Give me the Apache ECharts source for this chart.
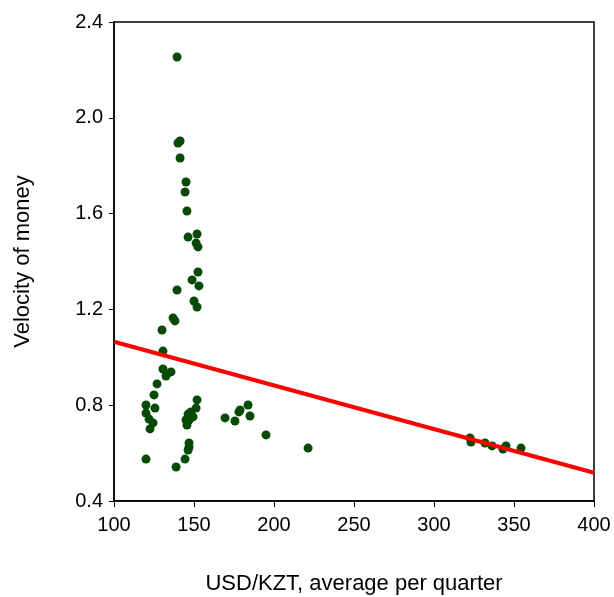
<!DOCTYPE html>
<html>
<head>
<meta charset="utf-8">
<script src="https://cdn.jsdelivr.net/npm/echarts@6/dist/echarts.min.js"></script>
<style>
html,body{margin:0;padding:0;background:#fff;}
#chart{width:614px;height:597px;}
</style>
</head>
<body>
<div id="chart"></div>
<script>
// USD/KZT average per quarter (x) vs velocity of money (y)
var usdKzt = [
  139.4, 140.0, 141.3, 141.3, 145.0, 144.4, 145.6, 146.3, 151.9, 151.3,
  152.5, 152.5, 148.8, 153.1, 139.4, 150.0, 151.9, 136.9, 138.1, 130.0,
  130.6, 130.6, 135.6, 132.5, 126.9, 125.0, 120.0, 125.6, 120.0, 121.9,
  124.4, 122.5, 120.0, 151.9, 151.3, 146.3, 149.4, 146.9, 145.6, 148.1,
  145.0, 146.9, 146.9, 146.3, 144.4, 138.8, 169.4, 175.6, 178.1, 178.8,
  183.8, 185.0, 195.0, 221.3, 322.5, 323.1, 331.9, 336.3, 343.1, 345.0,
  354.4
];
var velocity = [
  2.254, 1.895, 1.903, 1.832, 1.732, 1.690, 1.611, 1.502, 1.515, 1.477,
  1.461, 1.356, 1.323, 1.298, 1.281, 1.235, 1.210, 1.164, 1.152, 1.114,
  1.026, 0.951, 0.939, 0.922, 0.889, 0.843, 0.801, 0.788, 0.767, 0.742,
  0.726, 0.701, 0.575, 0.822, 0.788, 0.763, 0.751, 0.738, 0.717, 0.772,
  0.738, 0.642, 0.625, 0.613, 0.575, 0.542, 0.747, 0.734, 0.772, 0.780,
  0.801, 0.755, 0.676, 0.621, 0.663, 0.646, 0.642, 0.630, 0.617, 0.630,
  0.621
];
// fitted regression line end points
var fitX = [100, 400];
var fitY = [1.065, 0.518];

var xTicks = {min: 100, max: 400, interval: 50};
var yTicks = {min: 0.4, max: 2.4, interval: 0.4};

var scatterData = usdKzt.map(function (x, i) { return [x, velocity[i]]; });
var fitData = fitX.map(function (x, i) { return [x, fitY[i]]; });

var font = 'Liberation Sans, Arial, sans-serif';
var chart = echarts.init(document.getElementById('chart'), null, {renderer: 'canvas'});
chart.setOption({
  backgroundColor: '#ffffff',
  animation: false,
  grid: {
    left: 114, right: 20, top: 22, bottom: 96,
    containLabel: false, outerBoundsMode: 'none',
    show: true, borderColor: '#000', borderWidth: 1.5, backgroundColor: 'transparent'
  },
  xAxis: {
    type: 'value',
    min: xTicks.min, max: xTicks.max, interval: xTicks.interval,
    name: 'USD/KZT, average per quarter',
    nameLocation: 'middle', nameGap: 72,
    nameTextStyle: {fontFamily: font, fontSize: 22, color: '#000'},
    axisLine: {lineStyle: {color: '#000', width: 1.5}},
    axisTick: {show: true, length: 6, lineStyle: {color: '#000', width: 1}},
    axisLabel: {fontFamily: font, fontSize: 20, color: '#000', margin: 14},
    splitLine: {show: false}
  },
  yAxis: {
    type: 'value',
    min: yTicks.min, max: yTicks.max, interval: yTicks.interval,
    name: 'Velocity of money',
    nameLocation: 'middle', nameGap: 80,
    nameTextStyle: {fontFamily: font, fontSize: 22, color: '#000'},
    axisLine: {lineStyle: {color: '#000', width: 1.5}},
    axisTick: {show: true, length: 5, lineStyle: {color: '#000', width: 1}},
    axisLabel: {fontFamily: font, fontSize: 20, color: '#000', margin: 11,
      formatter: function (v) { return v.toFixed(1); }},
    splitLine: {show: false}
  },
  series: [
    {
      type: 'scatter',
      data: scatterData,
      symbol: 'circle',
      symbolSize: 9,
      itemStyle: {color: '#064a06', opacity: 1},
      z: 3
    },
    {
      type: 'line',
      data: fitData,
      symbol: 'none',
      lineStyle: {color: '#ff0000', width: 4},
      z: 4
    }
  ]
});
</script>
</body>
</html>
